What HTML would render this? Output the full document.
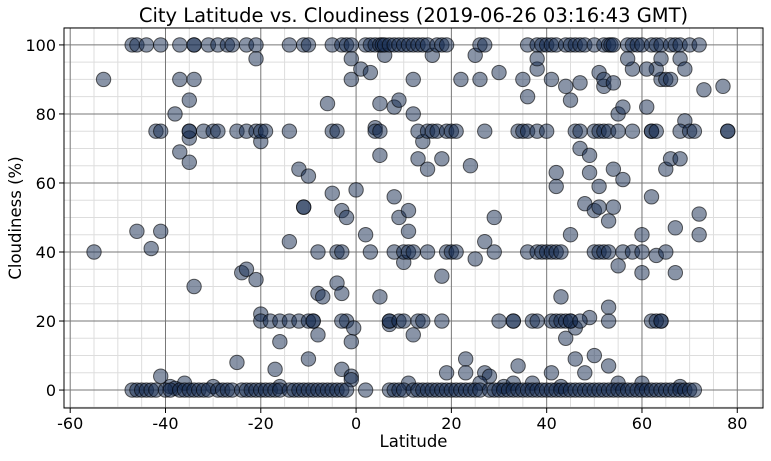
<!DOCTYPE html>
<html><head><meta charset="utf-8"><style>
body{margin:0;background:#fff;font-family:"Liberation Sans","DejaVu Sans",sans-serif}
svg text{font-family:"DejaVu Sans","Liberation Sans",sans-serif}
</style></head><body>
<svg id="c" width="771" height="456" xmlns="http://www.w3.org/2000/svg"></svg>
<script>
const xTicks=[-60,-40,-20,0,20,40,60,80];
const yTicks=[0,20,40,60,80,100];
const extraPoints=[[-53,90],[-55,40],[-46,46],[-43,41],[-41,46],[-41,4],[-39,1],[-38,80],[-37,90],[-37,69],[-35,84],[-35,75],[-35,73],[-35,66],[-34,30],[-34,90],[-36,2],[-25,8],[-24,34],[-23,35],[-21,32],[-21,96],[-20,72],[-20,22],[-20,20],[-17,6],[-16,14],[-14,43],[-12,64],[-11,53],[-11,53],[-10,9],[-10,62],[-9,20],[-8,28],[-8,16],[-7,27],[-6,83],[-5,57],[-5,75],[-4,31],[-3,52],[-3,28],[-3,6],[-2,50],[-2,20],[-1,4],[-1,3],[-1,90],[0,58],[-1,96],[-0.5,18],[-1,14],[1,93],[2,45],[3,92],[4,76],[5,83],[5,68],[5,27],[6,97],[7,19],[7,20],[8,56],[8,82],[9,50],[9,84],[10,37],[11,52],[11,46],[11,2],[12,90],[12,80],[12,16],[13,67],[14,72],[15,64],[16,97],[18,33],[18,67],[19,5],[22,90],[23,9],[23,5],[24,65],[25,38],[25,97],[26,90],[27,43],[27,5],[28,4],[29,50],[30,92],[33,20],[34,7],[35,90],[37,2],[38,93],[41,90],[42,59],[42,63],[43,27],[44,15],[45,20],[45,45],[46,18],[46,9],[47,70],[48,54],[48,5],[49,21],[49,63],[49,68],[50,10],[50,52],[51,59],[51,53],[51,92],[52,88],[53,7],[53,24],[53,49],[54,64],[54,53],[55,36],[55,80],[56,61],[56,82],[58,93],[60,45],[60,34],[61,82],[62,56],[63,39],[62,75],[64,20],[65,64],[66,67],[67,47],[67,34],[68,96],[68,67],[69,78],[69,93],[72,51],[72,45],[73,87],[77,88],[78,75],[36,85],[38,96],[44,88],[45,84],[47,89],[52,90],[54,89],[57,96],[64,90],[65,90],[66,90],[63,93],[64,96],[61,93],[26,2],[31,1],[33,2],[43,1],[55,2],[60,2],[68,1],[-38,0.5],[-16,1],[41,5],[-30,1]];
const lat100=[-47,-46,-44,-41,-37,-34,-34,-31,-29,-27,-26,-23,-21,-14,-11,-10,-5,-3,-2,-1,2,3,4,5,5.5,6,7,8,9,10,11,12,13,14,15,17,18,19,26,27,36,38,39,40,41,42,44,45,46,47,48,50,52,53,53.5,54,57,58,59,60,62,63,64,66,67,68,70,72];
const lat75=[-42,-41,-35,-32,-30,-29,-25,-23,-21,-20,-19,-14,-4,4,5,13,15,16,17,19,20,21,27,34,35,36,38,40,46,47,50,51,52,53,55,58,62,63,68,70,71,78];
const lat40=[-4,-3,-8,3,8,10,11,12,15,19,20,21,29,36,38,39,40,41,42,43,50,51,52,53,56,58,60,65];
const lat20=[-18,-16,-14,-12,-10,-9,-3,7,9,10,13,14,18,30,33,37,38,41,42,43,44,45,47,53,62,63,64];
const lat0=[-47,-46,-45,-44,-43,-42,-40,-39,-37,-36,-35,-34,-33,-32,-31,-29,-28,-27,-26,-24,-23,-22,-21,-20,-19,-18,-17,-16,-14,-13,-12,-11,-10,-9,-8,-7,-6,-5,-4,-3,-2,2,7,8,9,10,12,13,14,15,16,17,18,19,20,21,22,23,24,25,26,28,29,30,31,32,33,34,35,36,37,38,39,40,41,42,43,44,45,46,47,48,49,50,51,52,53,54,55,56,57,58,59,60,61,62,63,64,65,66,67,68,69,70,71];

const L=64,R=763,T=28,B=408;
const X0=-61.3,X1=85.4,Y0=-5.2,Y1=104.9;
const sx=v=>L+(v-X0)/(X1-X0)*(R-L);
const sy=v=>B-(v-Y0)/(Y1-Y0)*(B-T);
const svg=document.getElementById('c');
const NS='http://www.w3.org/2000/svg';
function el(t,a){const e=document.createElementNS(NS,t);for(const k in a)e.setAttribute(k,a[k]);svg.appendChild(e);return e;}
for(let v=-60;v<=85;v+=5){if(v%20===0)continue;const g=el('line',{x1:sx(v),x2:sx(v),y1:T,y2:B,stroke:'#ddd','stroke-width':1});

}
for(let v=-5;v<=105;v+=5){if(v%20===0)continue;const g=el('line',{x1:L,x2:R,y1:sy(v),y2:sy(v),stroke:'#ddd','stroke-width':1});

}
xTicks.forEach(v=>{const g=el('line',{x1:sx(v),x2:sx(v),y1:T,y2:B,stroke:'#777','stroke-width':1});


const t=el('line',{x1:sx(v),x2:sx(v),y1:B,y2:B+5,stroke:'#000'});


const l=el('text',{x:sx(v),y:B+21,'text-anchor':'middle','font-size':16});l.textContent=v;

});
yTicks.forEach(v=>{const g=el('line',{x1:L,x2:R,y1:sy(v),y2:sy(v),stroke:'#777','stroke-width':1});


const t=el('line',{x1:L-5,x2:L,y1:sy(v),y2:sy(v),stroke:'#000'});


const l=el('text',{x:L-8,y:sy(v)+6,'text-anchor':'end','font-size':16});l.textContent=v;

});
const pts=[].concat(extraPoints,lat100.map(a=>[a,100]),lat75.map(a=>[a,75]),lat40.map(a=>[a,40]),lat20.map(a=>[a,20]),lat0.map(a=>[a,0]));
pts.forEach(p=>{const c=el('circle',{cx:sx(p[0]),cy:sy(p[1]),r:7.2,fill:'rgba(20,42,80,0.5)',stroke:'rgba(0,0,0,0.6)','stroke-width':1});

});
const f=el('rect',{x:L,y:T,width:R-L,height:B-T,fill:'none',stroke:'#000','stroke-width':1});


const ti=el('text',{x:(L+R)/2,y:22,'text-anchor':'middle','font-size':19.5});ti.textContent='City Latitude vs. Cloudiness (2019-06-26 03:16:43 GMT)';


const xl=el('text',{x:(L+R)/2,y:447,'text-anchor':'middle','font-size':16.5});xl.textContent='Latitude';


const yl=el('text',{x:0,y:0,'text-anchor':'middle','font-size':16.5,transform:`translate(21,${(T+B)/2}) rotate(-90)`});yl.textContent='Cloudiness (%)';


</script>
</body></html>
